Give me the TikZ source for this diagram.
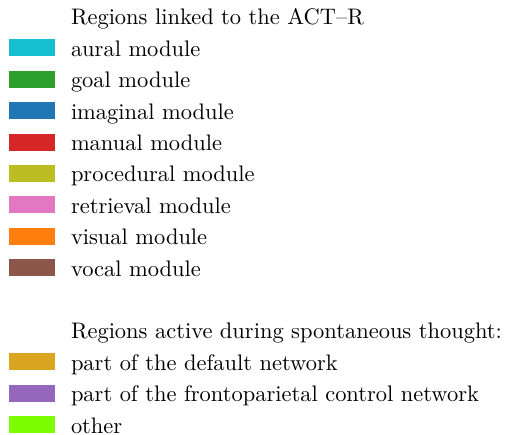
\documentclass[tikz,border=0pt]{standalone}
\usepackage{tikz}
\definecolor{aural}{HTML}{17BECF}
\definecolor{goal}{HTML}{2CA02C}
\definecolor{imaginal}{HTML}{1F77B4}
\definecolor{manual}{HTML}{D62728}
\definecolor{procedural}{HTML}{BCBD22}
\definecolor{retrieval}{HTML}{E377C2}
\definecolor{visual}{HTML}{FF7F0E}
\definecolor{vocal}{HTML}{8C564B}
\definecolor{default}{HTML}{DAA520}
\definecolor{fronto}{HTML}{9467BD}
\definecolor{other}{HTML}{7CFC00}
\tikzset{swatch/.style={minimum width=20.3pt, minimum height=7.6pt, inner sep=0pt, outer sep=0pt, anchor=south west}}
\tikzset{entry/.style={inner sep=0pt, outer sep=0pt, anchor=base west}}

\begin{document}
\begin{tikzpicture}[x=0.445pt, y=-0.445pt]
  \useasboundingbox (0,0) rectangle (505,435);
  \node[entry] (head1) at (71,25) {Regions linked to the ACT--R};
  \foreach \c/\t [count=\i] in {aural/aural module, goal/goal module,
      imaginal/imaginal module, manual/manual module,
      procedural/procedural module, retrieval/retrieval module,
      visual/visual module, vocal/vocal module} {
    \node[swatch, fill=\c] (sw\i) at (9.3,25+31.4*\i) {};
    \node[entry] (lab\i) at (71,25+31.4*\i) {\t};
  }

  \node[entry] (head2) at (71,25+31.4*10) {Regions active during spontaneous thought:};
  \foreach \c/\t [count=\i] in {default/part of the default network,
      fronto/part of the frontoparietal control network, other/other} {
    \node[swatch, fill=\c] (net\i) at (9.3,25+31.4*10+31.4*\i) {};
    \node[entry] (nlab\i) at (71,25+31.4*10+31.4*\i) {\t};
  }
\end{tikzpicture}
\end{document}
